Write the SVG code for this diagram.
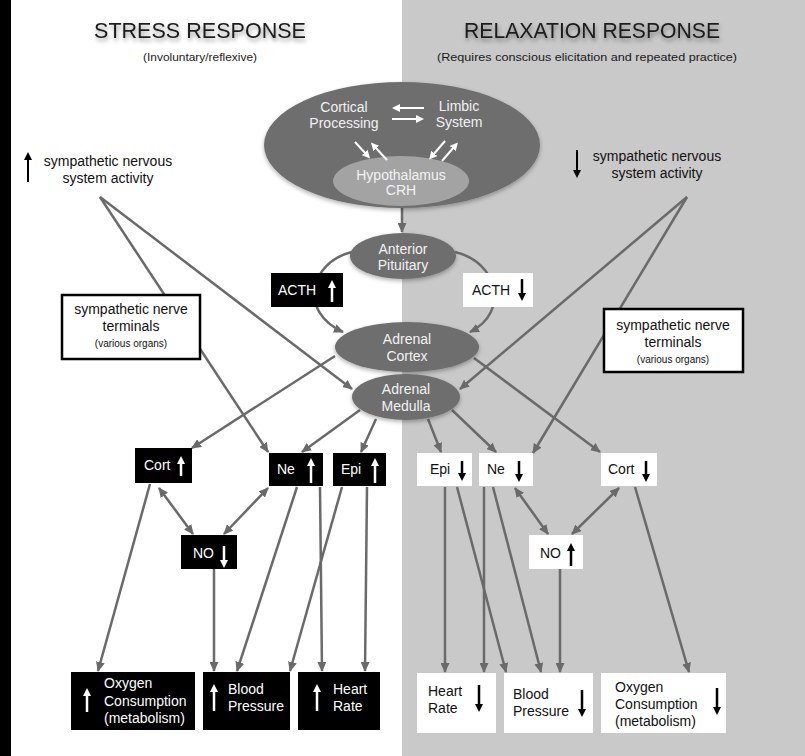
<svg xmlns="http://www.w3.org/2000/svg" width="805" height="756" viewBox="0 0 805 756">
<defs>
<style>
text{font-family:"Liberation Sans",Arial,sans-serif}
.hdr{font-size:22.5px;fill:#1a1a1a;text-anchor:middle}
.sub{font-size:11.5px;fill:#1a1a1a;text-anchor:middle}
.lbl{font-size:14px;fill:#111;text-anchor:middle}
.small{font-size:10px;fill:#111;text-anchor:middle}
.ell{fill:#6e6e6e}
.etx{font-size:14px;fill:#f2f2f2;text-anchor:middle}
.bk{fill:#000}
.wh{fill:#fff}
.btw{font-size:14px;fill:#fff}
.btb{font-size:14px;fill:#111}
.con{stroke:#6a6a6a;stroke-width:2.5;fill:none;marker-end:url(#ah)}
.bi{marker-start:url(#ah)}
.aw{stroke:#fff;stroke-width:2.5;fill:none;marker-end:url(#hw)}
.ab{stroke:#000;stroke-width:2.5;fill:none;marker-end:url(#hb)}
.brw{stroke:#fff;stroke-width:2;fill:none;marker-end:url(#bw)}
</style>
<marker id="ah" markerUnits="userSpaceOnUse" markerWidth="10" markerHeight="9" refX="9" refY="4.5" orient="auto-start-reverse"><path d="M0,0 L10,4.5 L0,9 z" fill="#6a6a6a"/></marker>
<marker id="hw" markerUnits="userSpaceOnUse" markerWidth="8" markerHeight="8" refX="2" refY="4" orient="auto"><path d="M0,0 L8,4 L0,8 z" fill="#fff"/></marker>
<marker id="hb" markerUnits="userSpaceOnUse" markerWidth="8" markerHeight="8" refX="2" refY="4" orient="auto"><path d="M0,0 L8,4 L0,8 z" fill="#000"/></marker>
<marker id="bw" markerUnits="userSpaceOnUse" markerWidth="8" markerHeight="8" refX="2" refY="4" orient="auto"><path d="M0,0 L8,4 L0,8 z" fill="#fff"/></marker>
<filter id="sh" x="-10%" y="-30%" width="120%" height="180%"><feDropShadow dx="1" dy="3" stdDeviation="2.2" flood-color="#000" flood-opacity="0.4"/></filter>
<filter id="esh" x="-10%" y="-20%" width="120%" height="150%"><feDropShadow dx="0" dy="2" stdDeviation="2" flood-color="#000" flood-opacity="0.3"/></filter>
</defs>

<rect x="0" y="0" width="805" height="756" fill="#fff"/>
<rect x="402" y="0" width="403" height="756" fill="#c9c9c9"/>
<rect x="0" y="0" width="11" height="756" fill="#000"/>

<g id="headers">
<text class="hdr" x="200" y="38" textLength="212" lengthAdjust="spacingAndGlyphs" filter="url(#sh)">STRESS RESPONSE</text>
<text class="sub" x="200" y="61" textLength="114" lengthAdjust="spacingAndGlyphs">(Involuntary/reflexive)</text>
<text class="hdr" x="592" y="38" textLength="256" lengthAdjust="spacingAndGlyphs" filter="url(#sh)">RELAXATION RESPONSE</text>
<text class="sub" x="587" y="61" textLength="300" lengthAdjust="spacingAndGlyphs">(Requires conscious elicitation and repeated practice)</text>
</g>

<g id="connectors">
<line class="con" x1="402" y1="208" x2="402" y2="232"/>
<path class="con" d="M352,252 C310,262 298,312 343,332"/>
<path class="con" d="M455,252 C498,262 510,312 470,332"/>
<line class="con" x1="100" y1="197" x2="352" y2="389"/>
<line class="con" x1="100" y1="197" x2="268" y2="452"/>
<line class="con" x1="687" y1="197" x2="460" y2="389"/>
<line class="con" x1="687" y1="197" x2="533" y2="453"/>
<line class="con" x1="335" y1="356" x2="192" y2="448"/>
<line class="con" x1="474" y1="358" x2="600" y2="452"/>
<line class="con" x1="360" y1="410" x2="302" y2="452"/>
<line class="con" x1="376" y1="419" x2="361" y2="452"/>
<line class="con" x1="428" y1="419" x2="441" y2="452"/>
<line class="con" x1="452" y1="410" x2="496" y2="452"/>
<line class="con bi" x1="159" y1="488" x2="193" y2="534"/>
<line class="con bi" x1="268" y1="488" x2="224" y2="534"/>
<line class="con bi" x1="515" y1="488" x2="548" y2="534"/>
<line class="con bi" x1="619" y1="488" x2="572" y2="534"/>
<line class="con" x1="150" y1="484" x2="98" y2="671"/>
<line class="con" x1="214" y1="569" x2="214" y2="671"/>
<line class="con" x1="297" y1="487" x2="237" y2="671"/>
<line class="con" x1="342" y1="487" x2="290" y2="671"/>
<line class="con" x1="320" y1="487" x2="322" y2="671"/>
<line class="con" x1="367" y1="487" x2="365" y2="671"/>
<line class="con" x1="445" y1="487" x2="445" y2="672"/>
<line class="con" x1="484" y1="487" x2="484" y2="672"/>
<line class="con" x1="457" y1="487" x2="506" y2="672"/>
<line class="con" x1="493" y1="487" x2="541" y2="672"/>
<line class="con" x1="560" y1="569" x2="560" y2="672"/>
<line class="con" x1="635" y1="487" x2="689" y2="672"/>
</g>

<g id="brain">
<ellipse cx="402" cy="145" rx="138" ry="63" class="ell" filter="url(#esh)"/>
<ellipse cx="401" cy="181" rx="68" ry="25" fill="#a3a3a3"/>
<text class="etx" x="344" y="112">Cortical</text>
<text class="etx" x="344" y="128">Processing</text>
<text class="etx" x="459" y="111">Limbic</text>
<text class="etx" x="459" y="127">System</text>
<text class="etx" x="401" y="180">Hypothalamus</text>
<text class="etx" x="401" y="195">CRH</text>
<line class="brw" x1="424" y1="108" x2="398" y2="108"/>
<line class="brw" x1="392" y1="119" x2="418" y2="119"/>
<line class="brw" x1="355" y1="142" x2="366" y2="154"/>
<line class="brw" x1="387" y1="160" x2="375" y2="147"/>
<line class="brw" x1="445" y1="141" x2="433" y2="155"/>
<line class="brw" x1="442" y1="161" x2="454" y2="147"/>
</g>

<g id="anterior-pituitary">
<ellipse cx="403" cy="256" rx="53" ry="23" class="ell" filter="url(#esh)"/>
<text class="etx" x="403" y="254">Anterior</text>
<text class="etx" x="403" y="270">Pituitary</text>
</g>

<g id="adrenal-cortex">
<ellipse cx="407" cy="347" rx="72" ry="25" class="ell" filter="url(#esh)"/>
<text class="etx" x="407" y="344">Adrenal</text>
<text class="etx" x="407" y="361">Cortex</text>
</g>

<g id="adrenal-medulla">
<ellipse cx="406" cy="397" rx="54" ry="23" class="ell" filter="url(#esh)"/>
<text class="etx" x="406" y="394">Adrenal</text>
<text class="etx" x="406" y="411">Medulla</text>
</g>

<g id="acth-up">
<rect x="271" y="273" width="72" height="34" class="bk"/>
<text class="btw" x="278" y="295">ACTH</text>
<line class="aw" x1="332" y1="302" x2="332" y2="286"/>
</g>

<g id="acth-down">
<rect x="463" y="273" width="70" height="34" class="wh"/>
<text class="btb" x="472" y="295">ACTH</text>
<line class="ab" x1="522" y1="279" x2="522" y2="295"/>
</g>

<g id="sns-up">
<line x1="28" y1="182" x2="28" y2="158" stroke="#000" stroke-width="2" marker-end="url(#hb)"/>
<text class="lbl" x="108" y="166">sympathetic nervous</text>
<text class="lbl" x="108" y="183">system activity</text>
</g>

<g id="sns-down">
<line x1="577" y1="150" x2="577" y2="172" stroke="#000" stroke-width="2" marker-end="url(#hb)"/>
<text class="lbl" x="657" y="161">sympathetic nervous</text>
<text class="lbl" x="657" y="178">system activity</text>
</g>

<g id="terminals-left">
<rect x="62" y="295" width="138" height="64" fill="#fff" stroke="#000" stroke-width="2.5"/>
<text class="lbl" x="131" y="314">sympathetic nerve</text>
<text class="lbl" x="131" y="331">terminals</text>
<text class="small" x="131" y="347">(various organs)</text>
</g>

<g id="terminals-right">
<rect x="604" y="309" width="139" height="63" fill="#fff" stroke="#000" stroke-width="2.5"/>
<text class="lbl" x="673" y="330">sympathetic nerve</text>
<text class="lbl" x="673" y="347">terminals</text>
<text class="small" x="673" y="363">(various organs)</text>
</g>

<g id="cort-up">
<rect x="135" y="448" width="57" height="35" class="bk"/>
<text class="btw" x="144" y="470">Cort</text>
<line class="aw" x1="181" y1="476" x2="181" y2="462"/>
</g>
<g id="ne-up">
<rect x="269" y="453" width="54" height="33" class="bk"/>
<text class="btw" x="277" y="474">Ne</text>
<line class="aw" x1="311" y1="483" x2="311" y2="464"/>
</g>
<g id="epi-up">
<rect x="333" y="453" width="53" height="33" class="bk"/>
<text class="btw" x="341" y="474">Epi</text>
<line class="aw" x1="375" y1="483" x2="375" y2="464"/>
</g>
<g id="no-down">
<rect x="181" y="535" width="56" height="34" class="bk"/>
<text class="btw" x="193" y="558">NO</text>
<line class="aw" x1="224" y1="546" x2="224" y2="562"/>
</g>

<g id="epi-down">
<rect x="417" y="453" width="55" height="33" class="wh"/>
<text class="btb" x="430" y="474">Epi</text>
<line class="ab" x1="462" y1="461" x2="462" y2="475"/>
</g>
<g id="ne-down">
<rect x="479" y="453" width="54" height="33" class="wh"/>
<text class="btb" x="487" y="474">Ne</text>
<line class="ab" x1="519" y1="461" x2="519" y2="476"/>
</g>
<g id="cort-down">
<rect x="601" y="453" width="56" height="33" class="wh"/>
<text class="btb" x="608" y="474">Cort</text>
<line class="ab" x1="646" y1="461" x2="646" y2="476"/>
</g>
<g id="no-up">
<rect x="529" y="535" width="54" height="34" class="wh"/>
<text class="btb" x="540" y="558">NO</text>
<line class="ab" x1="571" y1="566" x2="571" y2="549"/>
</g>

<g id="oxygen-up">
<rect x="71" y="672" width="124" height="58" class="bk"/>
<line class="aw" x1="87" y1="712" x2="87" y2="694"/>
<text class="btw" x="104" y="688">Oxygen</text>
<text class="btw" x="104" y="706">Consumption</text>
<text class="btw" x="104" y="723">(metabolism)</text>
</g>
<g id="bp-up">
<rect x="203" y="672" width="87" height="58" class="bk"/>
<line class="aw" x1="214" y1="711" x2="214" y2="690"/>
<text class="btw" x="228" y="694">Blood</text>
<text class="btw" x="228" y="711">Pressure</text>
</g>
<g id="hr-up">
<rect x="298" y="672" width="82" height="58" class="bk"/>
<line class="aw" x1="317" y1="711" x2="317" y2="690"/>
<text class="btw" x="333" y="694">Heart</text>
<text class="btw" x="333" y="711">Rate</text>
</g>

<g id="hr-down">
<rect x="417" y="673" width="79" height="60" class="wh"/>
<text class="btb" x="428" y="696">Heart</text>
<text class="btb" x="428" y="713">Rate</text>
<line class="ab" x1="479" y1="685" x2="479" y2="706"/>
</g>
<g id="bp-down">
<rect x="504" y="673" width="89" height="60" class="wh"/>
<text class="btb" x="513" y="699">Blood</text>
<text class="btb" x="513" y="716">Pressure</text>
<line class="ab" x1="582" y1="690" x2="582" y2="711"/>
</g>
<g id="oxygen-down">
<rect x="601" y="673" width="125" height="60" class="wh"/>
<text class="btb" x="615" y="692">Oxygen</text>
<text class="btb" x="615" y="709">Consumption</text>
<text class="btb" x="615" y="726">(metabolism)</text>
<line class="ab" x1="717" y1="688" x2="717" y2="709"/>
</g>
</svg>
